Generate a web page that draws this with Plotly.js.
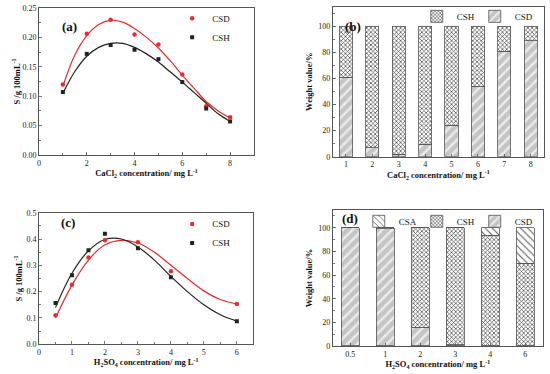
<!DOCTYPE html>
<html><head><meta charset="utf-8">
<script src="https://cdn.plot.ly/plotly-3.0.1.min.js"></script>
<style>html,body{margin:0;padding:0;background:#fff}#chart{width:550px;height:374px}</style>
</head><body><div id="chart"></div>
<script>
// Panel (a): CaCl2 concentration vs solubility
const aX = [1, 2, 3, 4, 5, 6, 7, 8];
const aCSD = [0.120, 0.206, 0.230, 0.205, 0.188, 0.137, 0.083, 0.064];
const aCSH = [0.107, 0.172, 0.187, 0.179, 0.163, 0.124, 0.079, 0.057];
// fitted curves
const aFitX = [1, 1.5, 2, 2.5, 3, 3.5, 4, 4.5, 5, 5.5, 6, 6.5, 7, 7.5, 8];
const aFitCSD = [0.117, 0.170, 0.203, 0.222, 0.229, 0.226, 0.215, 0.200, 0.182, 0.160, 0.136, 0.113, 0.091, 0.075, 0.063];
const aFitCSH = [0.105, 0.142, 0.168, 0.183, 0.190, 0.190, 0.183, 0.172, 0.158, 0.141, 0.124, 0.106, 0.088, 0.070, 0.057];

// Panel (b): weight fractions vs CaCl2
const bCat = [1, 2, 3, 4, 5, 6, 7, 8];
const bCSD = [61, 7, 2, 9.5, 24, 54, 81, 89];
const bCSH = [39, 93, 98, 90.5, 76, 46, 19, 11];

// Panel (c): H2SO4 concentration vs solubility
const cX = [0.5, 1, 1.5, 2, 3, 4, 6];
const cCSD = [0.110, 0.226, 0.330, 0.395, 0.388, 0.278, 0.153];
const cCSH = [0.157, 0.262, 0.357, 0.420, 0.365, 0.255, 0.088];
const cFitX = [0.5, 1, 1.5, 2, 2.5, 3, 3.5, 4, 4.5, 5, 5.5, 6];
const cFitCSD = [0.100, 0.225, 0.320, 0.378, 0.395, 0.385, 0.350, 0.300, 0.250, 0.203, 0.170, 0.153];
const cFitCSH = [0.140, 0.270, 0.355, 0.398, 0.400, 0.370, 0.320, 0.258, 0.200, 0.150, 0.112, 0.088];

// Panel (d): weight fractions vs H2SO4
const dCat = ["0.5", "1", "2", "3", "4", "6"];
const dCSD = [100, 99.3, 16, 1, 0, 0];
const dCSH = [0, 0.7, 84, 99, 93.5, 70];
const dCSA = [0, 0, 0, 0, 6.5, 30];

const FONT = "Liberation Serif";
const RED = "#ec2a2a", BLK = "#222222", FRAME = "#555555";

const csdMarker = {color: "#c4c4c4", line: {color: "#555", width: 0.8}, pattern: {shape: "/", fgcolor: "#ececec", bgcolor: "#c4c4c4", size: 7, solidity: 0.35, fillmode: "replace"}};
const cshMarker = {color: "#ffffff", line: {color: "#555", width: 0.8}, pattern: {shape: "x", fgcolor: "#444", bgcolor: "#ffffff", size: 3, solidity: 0.4, fillmode: "replace"}};
const csaMarker = {color: "#ffffff", line: {color: "#555", width: 0.8}, pattern: {shape: "\\", fgcolor: "#555", bgcolor: "#ffffff", size: 5, solidity: 0.2, fillmode: "replace"}};

const traces = [
  {x: aFitX, y: aFitCSD, type: "scatter", mode: "lines", line: {color: RED, width: 1.2, shape: "spline"}, xaxis: "x", yaxis: "y", showlegend: false, hoverinfo: "skip"},
  {x: aFitX, y: aFitCSH, type: "scatter", mode: "lines", line: {color: BLK, width: 1.2, shape: "spline"}, xaxis: "x", yaxis: "y", showlegend: false, hoverinfo: "skip"},
  {x: aX, y: aCSD, name: "CSD", type: "scatter", mode: "markers", marker: {color: RED, symbol: "circle", size: 4.5}, xaxis: "x", yaxis: "y", legend: "legend"},
  {x: aX, y: aCSH, name: "CSH", type: "scatter", mode: "markers", marker: {color: BLK, symbol: "square", size: 4}, xaxis: "x", yaxis: "y", legend: "legend"},

  {x: bCat, y: bCSD, name: "CSD", type: "bar", width: 0.5, xaxis: "x2", yaxis: "y2", legend: "legend2", legendwidth: 22, marker: csdMarker},
  {x: bCat, y: bCSH, name: "CSH", type: "bar", width: 0.5, xaxis: "x2", yaxis: "y2", legend: "legend2", legendwidth: 13, marker: cshMarker},

  {x: cFitX, y: cFitCSD, type: "scatter", mode: "lines", line: {color: RED, width: 1.2, shape: "spline"}, xaxis: "x3", yaxis: "y3", showlegend: false, hoverinfo: "skip"},
  {x: cFitX, y: cFitCSH, type: "scatter", mode: "lines", line: {color: BLK, width: 1.2, shape: "spline"}, xaxis: "x3", yaxis: "y3", showlegend: false, hoverinfo: "skip"},
  {x: cX, y: cCSD, name: "CSD", type: "scatter", mode: "markers", marker: {color: RED, symbol: "circle", size: 4.5}, xaxis: "x3", yaxis: "y3", legend: "legend3"},
  {x: cX, y: cCSH, name: "CSH", type: "scatter", mode: "markers", marker: {color: BLK, symbol: "square", size: 4}, xaxis: "x3", yaxis: "y3", legend: "legend3"},

  {x: dCat, y: dCSD, name: "CSD", type: "bar", width: 0.52, xaxis: "x4", yaxis: "y4", legend: "legend4", legendwidth: 22, marker: csdMarker},
  {x: dCat, y: dCSH, name: "CSH", type: "bar", width: 0.52, xaxis: "x4", yaxis: "y4", legend: "legend4", legendwidth: 13, marker: cshMarker},
  {x: dCat, y: dCSA, name: "CSA", type: "bar", width: 0.52, xaxis: "x4", yaxis: "y4", legend: "legend4", legendwidth: 13, marker: csaMarker}
];

const tickFont = {family: FONT, size: 8, color: "#222"};
const titleFont = {family: FONT, size: 8.5, color: "#111", weight: "bold"};
function ax(extra) {
  return Object.assign({
    showline: true, linecolor: FRAME, linewidth: 1, mirror: true,
    ticks: "inside", ticklen: 3, tickcolor: FRAME, tickwidth: 0.8,
    showgrid: false, zeroline: false, tickfont: tickFont, automargin: false, fixedrange: true
  }, extra);
}
const legBase = {font: {family: FONT, size: 9, color: "#111"}, bgcolor: "rgba(0,0,0,0)", borderwidth: 0, itemwidth: 30, xref: "paper", yref: "paper"};

const layout = {
  width: 550, height: 374, margin: {l: 0, r: 0, t: 0, b: 0},
  paper_bgcolor: "#fff", plot_bgcolor: "#fff", barmode: "stack",
  font: {family: FONT},
  xaxis: ax({domain: [0.0709, 0.4618], anchor: "y", range: [0, 9], tickvals: [0, 2, 4, 6, 8],
    minor: {dtick: 1, ticks: "inside", ticklen: 2, tickcolor: FRAME},
    title: {text: "CaCl<sub>2</sub> concentration/ mg L<sup>-1</sup>", font: titleFont, standoff: 0}}),
  yaxis: ax({domain: [0.5856, 0.9786], anchor: "x", range: [0, 0.25], dtick: 0.05, tickformat: ".2f",
    minor: {dtick: 0.025, ticks: "inside", ticklen: 2, tickcolor: FRAME},
    title: {text: "S /g 100mL<sup>-1</sup>", font: titleFont, standoff: 0}}),
  xaxis2: ax({domain: [0.605, 0.989], anchor: "y2", range: [0.5, 8.5], tickvals: bCat,
    title: {text: "CaCl<sub>2</sub> concentration/ mg L<sup>-1</sup>", font: titleFont, standoff: 0}}),
  yaxis2: ax({domain: [0.581, 0.982], anchor: "x2", range: [0, 115], tickvals: [0, 20, 40, 60, 80, 100],
    minor: {dtick: 10, ticks: "inside", ticklen: 2, tickcolor: FRAME},
    title: {text: "Weight value/%", font: titleFont, standoff: 4}}),
  xaxis3: ax({domain: [0.0709, 0.4606], anchor: "y3", range: [0, 6.5], dtick: 1,
    minor: {dtick: 0.5, ticks: "inside", ticklen: 2, tickcolor: FRAME},
    title: {text: "H<sub>2</sub>SO<sub>4</sub> concentration/ mg L<sup>-1</sup>", font: titleFont, standoff: 0}}),
  yaxis3: ax({domain: [0.0794, 0.4313], anchor: "x3", range: [0, 0.5], dtick: 0.1, tickformat: ".1f",
    minor: {dtick: 0.05, ticks: "inside", ticklen: 2, tickcolor: FRAME},
    title: {text: "S /g 100mL<sup>-1</sup>", font: titleFont, standoff: 2}}),
  xaxis4: ax({domain: [0.605, 0.987], anchor: "y4", type: "category",
    title: {text: "H<sub>2</sub>SO<sub>4</sub> concentration/ mg L<sup>-1</sup>", font: titleFont, standoff: 0}}),
  yaxis4: ax({domain: [0.0749, 0.4385], anchor: "x4", range: [0, 115], tickvals: [0, 20, 40, 60, 80, 100],
    minor: {dtick: 10, ticks: "inside", ticklen: 2, tickcolor: FRAME},
    title: {text: "Weight value/%", font: titleFont, standoff: 4}}),
  legend: Object.assign({}, legBase, {x: 0.313, y: 0.99, xanchor: "left", yanchor: "top"}),
  legend2: Object.assign({}, legBase, {x: 0.985, y: 0.995, xanchor: "right", yanchor: "top", orientation: "h", traceorder: "reversed"}),
  legend3: Object.assign({}, legBase, {x: 0.313, y: 0.44, xanchor: "left", yanchor: "top"}),
  legend4: Object.assign({}, legBase, {x: 0.985, y: 0.447, xanchor: "right", yanchor: "top", orientation: "h", traceorder: "reversed"}),
  annotations: [
    {text: "(a)", x: 0.109, y: 0.955, xref: "paper", yref: "paper", showarrow: false, font: {family: FONT, size: 13, weight: "bold", color: "#111"}},
    {text: "(b)", x: 0.642, y: 0.955, xref: "paper", yref: "paper", showarrow: false, font: {family: FONT, size: 13, weight: "bold", color: "#111"}},
    {text: "(c)", x: 0.107, y: 0.405, xref: "paper", yref: "paper", showarrow: false, font: {family: FONT, size: 13, weight: "bold", color: "#111"}},
    {text: "(d)", x: 0.636, y: 0.416, xref: "paper", yref: "paper", showarrow: false, font: {family: FONT, size: 13, weight: "bold", color: "#111"}}
  ]
};

Plotly.newPlot("chart", traces, layout, {displayModeBar: false, staticPlot: true});
</script></body></html>
